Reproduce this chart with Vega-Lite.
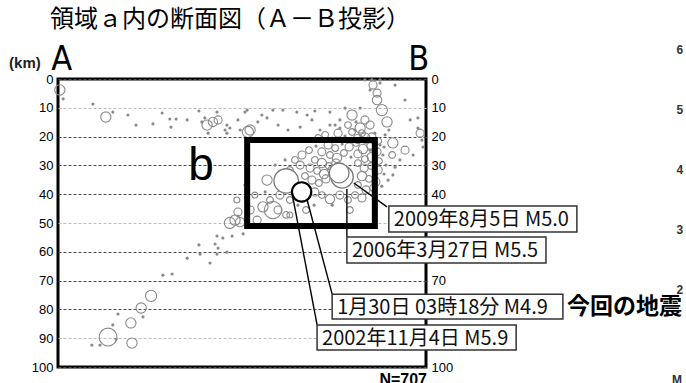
{
  "$schema": "https://vega.github.io/schema/vega-lite/v6.json",
  "width": 368,
  "height": 288,
  "autosize": {"type": "none"},
  "padding": {"left": 58, "top": 79, "right": 260, "bottom": 16},
  "background": "white",
  "config": {"view": {"stroke": "black", "strokeWidth": 3}, "font": "Liberation Sans"},
  "datasets": {
    "quakes": [
      {"x": 0.5, "d": 3.8, "m": 3}, {"x": 1.4, "d": 6.9, "m": 1.5}, {"x": 9.5, "d": 8.7, "m": 1.5},
      {"x": 13.0, "d": 13.2, "m": 3}, {"x": 14.9, "d": 11.5, "m": 1.5}, {"x": 19.0, "d": 12.5, "m": 1.5},
      {"x": 21.2, "d": 16.0, "m": 1.5}, {"x": 25.8, "d": 15.6, "m": 1.5}, {"x": 28.3, "d": 11.8, "m": 1.5},
      {"x": 30.4, "d": 13.9, "m": 1.5}, {"x": 30.7, "d": 16.7, "m": 1.5}, {"x": 32.1, "d": 13.9, "m": 1.5},
      {"x": 35.1, "d": 14.2, "m": 1.5}, {"x": 38.3, "d": 11.1, "m": 1.5}, {"x": 40.5, "d": 16.0, "m": 3},
      {"x": 42.1, "d": 14.9, "m": 2.8}, {"x": 43.5, "d": 14.2, "m": 2.5}, {"x": 39.1, "d": 14.9, "m": 1.5},
      {"x": 39.9, "d": 13.5, "m": 1.5}, {"x": 43.2, "d": 11.5, "m": 1.5}, {"x": 40.8, "d": 18.8, "m": 1.5},
      {"x": 45.9, "d": 16.0, "m": 1.5}, {"x": 46.7, "d": 17.0, "m": 1.5}, {"x": 45.9, "d": 18.8, "m": 1.5},
      {"x": 48.9, "d": 14.2, "m": 1.5}, {"x": 49.5, "d": 17.7, "m": 1.5}, {"x": 51.6, "d": 18.4, "m": 3.2},
      {"x": 50.8, "d": 11.5, "m": 1.5}, {"x": 45.4, "d": 17.7, "m": 1.5},
      {"x": 51.4, "d": 10.8, "m": 1.5}, {"x": 55.4, "d": 12.5, "m": 1.5}, {"x": 56.8, "d": 13.5, "m": 1.5},
      {"x": 58.4, "d": 10.8, "m": 1.5}, {"x": 61.1, "d": 10.8, "m": 1.5}, {"x": 64.9, "d": 11.5, "m": 1.5},
      {"x": 67.7, "d": 12.5, "m": 1.5}, {"x": 69.8, "d": 11.1, "m": 1.5}, {"x": 52.2, "d": 17.7, "m": 3},
      {"x": 54.3, "d": 14.9, "m": 1.5}, {"x": 59.8, "d": 16.0, "m": 1.5}, {"x": 62.5, "d": 17.7, "m": 1.5},
      {"x": 65.8, "d": 16.7, "m": 1.5}, {"x": 69.0, "d": 14.2, "m": 1.5}, {"x": 71.2, "d": 17.7, "m": 1.5},
      {"x": 79.9, "d": 12.5, "m": 3}, {"x": 88.0, "d": 10.8, "m": 3.2}, {"x": 86.7, "d": 7.3, "m": 2.8},
      {"x": 89.4, "d": 14.9, "m": 3}, {"x": 85.6, "d": 2.1, "m": 2.5}, {"x": 86.7, "d": 4.9, "m": 2.5},
      {"x": 84.8, "d": 3.8, "m": 1.5}, {"x": 87.5, "d": 1.4, "m": 1.5}, {"x": 91.6, "d": 2.1, "m": 1.5},
      {"x": 94.3, "d": 7.3, "m": 1.5}, {"x": 95.7, "d": 14.2, "m": 1.5}, {"x": 97.8, "d": 13.5, "m": 1.5},
      {"x": 98.4, "d": 18.8, "m": 2.5}, {"x": 98.9, "d": 21.2, "m": 1.5}, {"x": 99.2, "d": 23.6, "m": 1.5},
      {"x": 97.8, "d": 17.0, "m": 1.5}, {"x": 91.0, "d": 22.2, "m": 3}, {"x": 91.6, "d": 30.6, "m": 1.5},
      {"x": 91.0, "d": 33.3, "m": 1.5}, {"x": 92.9, "d": 28.1, "m": 1.5}, {"x": 94.3, "d": 24.7, "m": 2.5},
      {"x": 96.5, "d": 26.4, "m": 1.5}, {"x": 88.9, "d": 19.4, "m": 1.5}, {"x": 83.4, "d": 14.2, "m": 2.5},
      {"x": 82.1, "d": 10.1, "m": 1.5}, {"x": 76.6, "d": 14.2, "m": 1.5}, {"x": 78.0, "d": 10.1, "m": 1.5},
      {"x": 73.9, "d": 11.5, "m": 1.5}, {"x": 75.3, "d": 16.0, "m": 1.5}, {"x": 80.7, "d": 17.7, "m": 1.5},
      {"x": 82.1, "d": 17.0, "m": 3}, {"x": 84.8, "d": 16.0, "m": 2.5}, {"x": 86.1, "d": 18.8, "m": 1.5},
      {"x": 83.4, "d": 20.5, "m": 3}, {"x": 87.5, "d": 22.9, "m": 1.5}, {"x": 84.8, "d": 24.7, "m": 1.5},
      {"x": 83.4, "d": 0.3, "m": 1.5}, {"x": 85.3, "d": 0.3, "m": 1.5}, {"x": 87.5, "d": 0.3, "m": 1.5},
      {"x": 72.6, "d": 19.4, "m": 2.2}, {"x": 74.5, "d": 20.5, "m": 1.5}, {"x": 76.1, "d": 18.8, "m": 2.5},
      {"x": 78.0, "d": 19.8, "m": 1.5}, {"x": 79.9, "d": 18.4, "m": 2.2}, {"x": 81.5, "d": 20.8, "m": 2.8},
      {"x": 83.7, "d": 21.9, "m": 1.5}, {"x": 85.3, "d": 20.1, "m": 2.5}, {"x": 87.0, "d": 21.5, "m": 2.2},
      {"x": 88.6, "d": 23.6, "m": 1.5}, {"x": 73.4, "d": 22.9, "m": 2.5}, {"x": 75.3, "d": 24.0, "m": 2.2},
      {"x": 77.2, "d": 22.6, "m": 1.5}, {"x": 79.1, "d": 23.6, "m": 2.5}, {"x": 81.0, "d": 22.2, "m": 2.2},
      {"x": 82.9, "d": 24.3, "m": 2.8}, {"x": 84.8, "d": 23.3, "m": 2.2}, {"x": 86.7, "d": 25.3, "m": 2.5},
      {"x": 88.3, "d": 26.4, "m": 1.5}, {"x": 71.7, "d": 25.3, "m": 2.5}, {"x": 73.9, "d": 26.4, "m": 2.2},
      {"x": 75.8, "d": 27.4, "m": 2.8}, {"x": 77.7, "d": 25.7, "m": 2.2}, {"x": 79.6, "d": 27.1, "m": 1.5},
      {"x": 81.5, "d": 26.0, "m": 2.5}, {"x": 83.4, "d": 27.8, "m": 2.2}, {"x": 85.3, "d": 27.1, "m": 2.8},
      {"x": 87.2, "d": 28.5, "m": 2.2}, {"x": 89.1, "d": 29.9, "m": 1.5}, {"x": 69.8, "d": 28.1, "m": 2.2},
      {"x": 71.7, "d": 29.2, "m": 2.8}, {"x": 73.6, "d": 30.2, "m": 2.2}, {"x": 75.5, "d": 29.2, "m": 2.5},
      {"x": 81.5, "d": 29.2, "m": 2.2}, {"x": 83.2, "d": 30.9, "m": 2.5}, {"x": 85.1, "d": 30.2, "m": 2.2},
      {"x": 87.0, "d": 31.6, "m": 2.5}, {"x": 88.6, "d": 33.0, "m": 1.5}, {"x": 68.5, "d": 30.9, "m": 2.5},
      {"x": 70.4, "d": 31.9, "m": 2.2}, {"x": 72.3, "d": 33.0, "m": 2.8}, {"x": 74.2, "d": 31.6, "m": 2.2},
      {"x": 82.6, "d": 33.7, "m": 2.8}, {"x": 84.5, "d": 34.7, "m": 2.2}, {"x": 86.4, "d": 35.8, "m": 2.5},
      {"x": 88.0, "d": 37.2, "m": 1.5}, {"x": 67.1, "d": 33.7, "m": 2.2}, {"x": 69.0, "d": 35.1, "m": 2.5},
      {"x": 70.9, "d": 36.1, "m": 2.2}, {"x": 72.8, "d": 34.7, "m": 2.5}, {"x": 81.5, "d": 36.8, "m": 2.2},
      {"x": 83.7, "d": 38.5, "m": 2.5}, {"x": 85.6, "d": 37.8, "m": 2.2}, {"x": 65.8, "d": 36.8, "m": 1.5},
      {"x": 67.9, "d": 38.2, "m": 2.2}, {"x": 69.8, "d": 39.2, "m": 2.5}, {"x": 71.7, "d": 40.3, "m": 2.2},
      {"x": 73.9, "d": 41.7, "m": 2.8}, {"x": 80.7, "d": 40.3, "m": 2.2}, {"x": 82.6, "d": 41.3, "m": 2.5},
      {"x": 64.4, "d": 28.1, "m": 2.2}, {"x": 66.3, "d": 26.4, "m": 2.5}, {"x": 68.2, "d": 24.7, "m": 2.2},
      {"x": 70.1, "d": 23.3, "m": 1.5}, {"x": 65.8, "d": 29.9, "m": 2.5}, {"x": 63.0, "d": 31.6, "m": 2.2},
      {"x": 61.7, "d": 28.1, "m": 1.5}, {"x": 68.5, "d": 21.2, "m": 1.5}, {"x": 70.7, "d": 20.5, "m": 2.2},
      {"x": 59.0, "d": 29.9, "m": 1.5}, {"x": 60.3, "d": 40.3, "m": 2.5}, {"x": 63.0, "d": 42.0, "m": 2.2},
      {"x": 57.6, "d": 42.0, "m": 2.2}, {"x": 56.3, "d": 39.2, "m": 1.5}, {"x": 59.8, "d": 45.5, "m": 2.5},
      {"x": 62.0, "d": 47.2, "m": 2.2}, {"x": 65.2, "d": 43.8, "m": 1.5}, {"x": 67.4, "d": 45.5, "m": 2.2},
      {"x": 69.6, "d": 43.8, "m": 1.5}, {"x": 76.6, "d": 40.3, "m": 2.5}, {"x": 78.8, "d": 42.0, "m": 2.2},
      {"x": 74.5, "d": 43.8, "m": 1.5}, {"x": 79.3, "d": 45.5, "m": 2.2},
      {"x": 76.6, "d": 17.0, "m": 1.5}, {"x": 78.8, "d": 16.0, "m": 2.2}, {"x": 81.0, "d": 14.9, "m": 1.5},
      {"x": 73.9, "d": 16.0, "m": 1.5}, {"x": 82.6, "d": 18.8, "m": 2.2}, {"x": 89.9, "d": 17.7, "m": 1.5},
      {"x": 90.8, "d": 26.4, "m": 2.2}, {"x": 89.7, "d": 35.1, "m": 1.5},
      {"x": 56.8, "d": 35.1, "m": 3}, {"x": 55.7, "d": 44.4, "m": 3}, {"x": 58.4, "d": 45.5, "m": 4.5},
      {"x": 52.2, "d": 45.5, "m": 2.5}, {"x": 48.1, "d": 49.0, "m": 3}, {"x": 48.9, "d": 46.2, "m": 2.5},
      {"x": 54.1, "d": 49.0, "m": 2.5}, {"x": 48.6, "d": 42.0, "m": 2}, {"x": 53.5, "d": 40.3, "m": 2},
      {"x": 50.8, "d": 36.8, "m": 1.5}, {"x": 63.0, "d": 47.2, "m": 2},
      {"x": 46.7, "d": 50.0, "m": 3.2}, {"x": 49.5, "d": 49.7, "m": 2.8}, {"x": 48.9, "d": 47.6, "m": 1.5},
      {"x": 43.2, "d": 54.5, "m": 1.5}, {"x": 44.8, "d": 55.2, "m": 1.5}, {"x": 47.3, "d": 54.5, "m": 1.5},
      {"x": 50.3, "d": 53.8, "m": 1.5}, {"x": 38.3, "d": 57.6, "m": 1.5}, {"x": 38.6, "d": 60.8, "m": 1.5},
      {"x": 42.7, "d": 57.3, "m": 1.5}, {"x": 43.5, "d": 58.7, "m": 1.5}, {"x": 43.2, "d": 60.8, "m": 1.5},
      {"x": 45.9, "d": 60.1, "m": 1.5}, {"x": 41.3, "d": 63.9, "m": 1.5}, {"x": 35.1, "d": 62.2, "m": 1.5},
      {"x": 28.5, "d": 68.1, "m": 1.5}, {"x": 31.0, "d": 67.7, "m": 1.5}, {"x": 25.3, "d": 75.3, "m": 3.2},
      {"x": 22.6, "d": 79.5, "m": 3}, {"x": 23.1, "d": 82.6, "m": 1.5}, {"x": 19.8, "d": 84.7, "m": 3},
      {"x": 16.3, "d": 81.6, "m": 1.5}, {"x": 13.6, "d": 89.6, "m": 4.6}, {"x": 14.9, "d": 85.4, "m": 1.5},
      {"x": 15.8, "d": 90.3, "m": 1.5}, {"x": 11.4, "d": 92.4, "m": 1.5}, {"x": 9.2, "d": 92.4, "m": 1.5},
      {"x": 20.1, "d": 91.7, "m": 3}
    ],
    "events": [
      {"name": "2002年11月4日", "x": 62.0, "d": 35.4, "m": 5.9, "now": false},
      {"name": "2006年3月27日", "x": 77.2, "d": 34.0, "m": 5.5, "now": false},
      {"name": "2009年8月5日", "x": 76.4, "d": 32.6, "m": 5.0, "now": false},
      {"name": "1月30日", "x": 66.2, "d": 39.2, "m": 4.9, "now": true}
    ],
    "labels": [
      {"text": "2009年8月5日 M5.0", "x1": 89.9, "x2": 141.0, "y1": 44.1, "y2": 53.1, "yc": 48.6, "lx": 80.4, "ly": 36.1, "lx2": 89.4, "ly2": 44.4},
      {"text": "2006年3月27日 M5.5", "x1": 78.5, "x2": 132.6, "y1": 54.9, "y2": 63.9, "yc": 59.4, "lx": 78.5, "ly": 38.2, "lx2": 78.5, "ly2": 54.9},
      {"text": "1月30日 03時18分 M4.9", "x1": 74.5, "x2": 137.2, "y1": 74.7, "y2": 83.3, "yc": 79.0, "lx": 67.7, "ly": 42.0, "lx2": 74.5, "ly2": 74.7},
      {"text": "2002年11月4日 M5.9", "x1": 70.4, "x2": 124.5, "y1": 85.4, "y2": 94.1, "yc": 89.8, "lx": 63.6, "ly": 39.6, "lx2": 70.4, "ly2": 85.4}
    ]
  },
  "layer": [
    {
      "data": {"name": "quakes"},
      "transform": [{"filter": "datum.m < 2"}],
      "mark": {"type": "point", "shape": "circle", "filled": true, "size": 10, "color": "#8a8a8a", "opacity": 1},
      "encoding": {
        "x": {"field": "x", "type": "quantitative", "scale": {"domain": [0, 100]}, "axis": null},
        "y": {"field": "d", "type": "quantitative", "scale": {"domain": [0, 100], "reverse": true},
          "axis": {"orient": "left", "zindex": 0, "values": [0, 10, 20, 30, 40, 50, 60, 70, 80, 90, 100], "domain": false, "ticks": false,
            "labelPadding": 5, "labelFontSize": 13, "labelColor": "black", "labelFont": "Liberation Sans", "title": null,
            "grid": true, "gridDash": [3, 2], "gridWidth": 1.2,
            "gridColor": {"condition": {"test": "datum.value == 10 || datum.value == 50 || datum.value == 90", "value": "#bdbdbd"}, "value": "#4a4a4a"}}}
      }
    },
    {
      "data": {"name": "quakes"},
      "transform": [{"filter": "datum.m >= 2"}],
      "mark": {"type": "point", "shape": "circle", "filled": false, "color": "#8a8a8a", "strokeWidth": 1.1, "opacity": 1},
      "encoding": {
        "x": {"field": "x", "type": "quantitative", "scale": {"domain": [0, 100]}, "axis": null},
        "y": {"field": "d", "type": "quantitative", "scale": {"domain": [0, 100], "reverse": true},
          "axis": {"orient": "right", "zindex": 0, "values": [0, 10, 20, 30, 40, 50, 60, 70, 80, 90, 100], "domain": false, "ticks": false,
            "labelPadding": 5, "labelFontSize": 13, "labelColor": "black", "labelFont": "Liberation Sans", "title": null, "grid": false}},
        "size": {"field": "m", "type": "quantitative", "scale": {"type": "pow", "exponent": 2.5, "domain": [1, 6], "range": [2, 620]}, "legend": null}
      }
    },
    {
      "data": {"name": "events"},
      "mark": {"type": "point", "shape": "circle", "filled": true, "fill": "white", "opacity": 1},
      "encoding": {
        "x": {"field": "x", "type": "quantitative", "scale": {"domain": [0, 100]}, "axis": null},
        "y": {"field": "d", "type": "quantitative", "scale": {"domain": [0, 100], "reverse": true}, "axis": null},
        "size": {"field": "m", "type": "quantitative", "scale": {"type": "pow", "exponent": 2.5, "domain": [1, 6], "range": [2, 620]}, "legend": null},
        "stroke": {"condition": {"test": "datum.now", "value": "black"}, "value": "#7a7a7a"},
        "strokeWidth": {"condition": {"test": "datum.now", "value": 2.2}, "value": 1.3}
      }
    },
    {
      "data": {"values": [{"x1": 51.4, "x2": 86.1, "y1": 21.2, "y2": 51.0}]},
      "mark": {"type": "rect", "fill": "transparent", "stroke": "black", "strokeWidth": 6},
      "encoding": {
        "x": {"field": "x1", "type": "quantitative", "scale": {"domain": [0, 100]}, "axis": null},
        "x2": {"field": "x2"},
        "y": {"field": "y1", "type": "quantitative", "scale": {"domain": [0, 100], "reverse": true}, "axis": null},
        "y2": {"field": "y2"}
      }
    },
    {
      "data": {"name": "labels"},
      "mark": {"type": "rule", "color": "black", "strokeWidth": 1.4},
      "encoding": {
        "x": {"field": "lx", "type": "quantitative", "scale": {"domain": [0, 100]}, "axis": null},
        "x2": {"field": "lx2"},
        "y": {"field": "ly", "type": "quantitative", "scale": {"domain": [0, 100], "reverse": true}, "axis": null},
        "y2": {"field": "ly2"}
      }
    },
    {
      "data": {"name": "labels"},
      "mark": {"type": "rect", "fill": "white", "stroke": "#333333", "strokeWidth": 1.5},
      "encoding": {
        "x": {"field": "x1", "type": "quantitative", "scale": {"domain": [0, 100]}, "axis": null},
        "x2": {"field": "x2"},
        "y": {"field": "y1", "type": "quantitative", "scale": {"domain": [0, 100], "reverse": true}, "axis": null},
        "y2": {"field": "y2"}
      }
    },
    {
      "data": {"name": "labels"},
      "mark": {"type": "text", "align": "left", "baseline": "middle", "dx": 5, "dy": 1, "font": "Noto Sans CJK JP", "fontSize": 20, "color": "#111111"},
      "encoding": {
        "x": {"field": "x1", "type": "quantitative", "scale": {"domain": [0, 100]}, "axis": null},
        "y": {"field": "yc", "type": "quantitative", "scale": {"domain": [0, 100], "reverse": true}, "axis": null},
        "text": {"field": "text"}
      }
    },
    {
      "data": {"values": [{"t": "領域ａ内の断面図（Ａ－Ｂ投影）", "x": -2.2, "d": -20.4}]},
      "mark": {"type": "text", "align": "left", "baseline": "middle", "font": "Noto Sans CJK JP", "fontSize": 24, "color": "black"},
      "encoding": {
        "x": {"field": "x", "type": "quantitative", "scale": {"domain": [0, 100]}, "axis": null},
        "y": {"field": "d", "type": "quantitative", "scale": {"domain": [0, 100], "reverse": true}, "axis": null},
        "text": {"field": "t"}
      }
    },
    {
      "data": {"values": [{"t": "(km)", "x": -9.0, "d": -5.6}]},
      "mark": {"type": "text", "align": "center", "baseline": "middle", "font": "Liberation Sans", "fontSize": 15, "fontWeight": "bold", "color": "#222222"},
      "encoding": {
        "x": {"field": "x", "type": "quantitative", "scale": {"domain": [0, 100]}, "axis": null},
        "y": {"field": "d", "type": "quantitative", "scale": {"domain": [0, 100], "reverse": true}, "axis": null},
        "text": {"field": "t"}
      }
    },
    {
      "data": {"values": [{"t": "A", "x": 1.0, "d": -3.1}, {"t": "B", "x": 98.0, "d": -3.1}]},
      "mark": {"type": "text", "align": "center", "baseline": "alphabetic", "font": "Liberation Sans Narrow, DejaVu Sans Condensed", "fontSize": 34, "color": "black"},
      "encoding": {
        "x": {"field": "x", "type": "quantitative", "scale": {"domain": [0, 100]}, "axis": null},
        "y": {"field": "d", "type": "quantitative", "scale": {"domain": [0, 100], "reverse": true}, "axis": null},
        "text": {"field": "t"}
      }
    },
    {
      "data": {"values": [{"t": "b", "x": 38.9, "d": 35.1}]},
      "mark": {"type": "text", "align": "center", "baseline": "alphabetic", "font": "Liberation Sans", "fontSize": 46, "color": "black"},
      "encoding": {
        "x": {"field": "x", "type": "quantitative", "scale": {"domain": [0, 100]}, "axis": null},
        "y": {"field": "d", "type": "quantitative", "scale": {"domain": [0, 100], "reverse": true}, "axis": null},
        "text": {"field": "t"}
      }
    },
    {
      "data": {"values": [{"t": "今回の地震", "x": 138.3, "d": 79.2}]},
      "mark": {"type": "text", "align": "left", "baseline": "middle", "font": "Noto Sans CJK JP", "fontSize": 23, "fontWeight": "bold", "color": "black"},
      "encoding": {
        "x": {"field": "x", "type": "quantitative", "scale": {"domain": [0, 100]}, "axis": null},
        "y": {"field": "d", "type": "quantitative", "scale": {"domain": [0, 100], "reverse": true}, "axis": null},
        "text": {"field": "t"}
      }
    },
    {
      "data": {"values": [{"t": "N=707", "x": 93.8, "d": 101.7}]},
      "mark": {"type": "text", "align": "center", "baseline": "top", "font": "Liberation Sans", "fontSize": 16, "fontWeight": "bold", "color": "black"},
      "encoding": {
        "x": {"field": "x", "type": "quantitative", "scale": {"domain": [0, 100]}, "axis": null},
        "y": {"field": "d", "type": "quantitative", "scale": {"domain": [0, 100], "reverse": true}, "axis": null},
        "text": {"field": "t"}
      }
    },
    {
      "data": {"values": [
        {"t": "6", "x": 169.0, "d": -10.1}, {"t": "5", "x": 169.0, "d": 10.8}, {"t": "4", "x": 169.0, "d": 31.6},
        {"t": "3", "x": 169.0, "d": 52.4}, {"t": "2", "x": 169.0, "d": 73.3}, {"t": "M", "x": 168.2, "d": 104.5}
      ]},
      "mark": {"type": "text", "align": "center", "baseline": "middle", "font": "Liberation Sans", "fontSize": 12, "fontWeight": "bold", "color": "#333333"},
      "encoding": {
        "x": {"field": "x", "type": "quantitative", "scale": {"domain": [0, 100]}, "axis": null},
        "y": {"field": "d", "type": "quantitative", "scale": {"domain": [0, 100], "reverse": true}, "axis": null},
        "text": {"field": "t"}
      }
    }
  ],
  "resolve": {"axis": {"y": "independent"}}
}
